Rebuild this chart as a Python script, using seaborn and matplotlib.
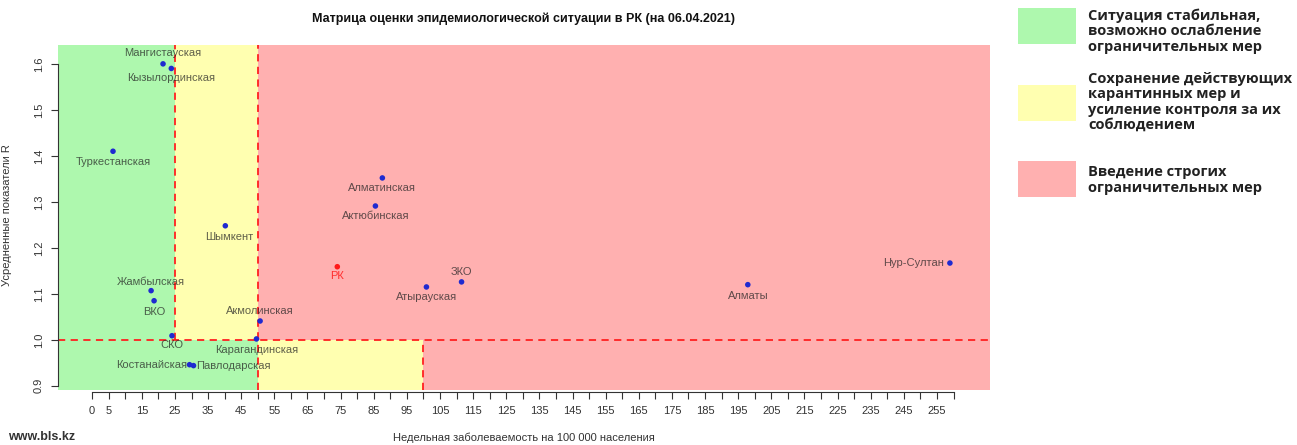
import matplotlib
matplotlib.use('Agg')
import matplotlib.pyplot as plt
import seaborn as sns
import pandas as pd
from matplotlib.patches import Rectangle

regions = ['Мангистауская', 'Кызылординская', 'Туркестанская', 'Шымкент', 'Жамбылская',
           'ВКО', 'СКО', 'Акмолинская', 'Карагандинская', 'Костанайская', 'Павлодарская',
           'Алматинская', 'Актюбинская', 'РК', 'ЗКО', 'Атырауская', 'Алматы', 'Нур-Султан']
incidence = [21.4, 23.9, 6.3, 40.2, 17.8, 18.7, 24.1, 50.7, 49.6, 29.4, 30.6,
             87.6, 85.5, 74.0, 111.5, 100.9, 197.9, 258.9]
r_value = [1.60, 1.59, 1.41, 1.248, 1.107, 1.085, 1.009, 1.041, 1.002, 0.946, 0.944,
           1.352, 1.291, 1.159, 1.126, 1.115, 1.12, 1.167]

# label placement (offset in points, horizontal alignment)
label_dx = [0, 0, 0, 3, 0, 0, 0, 0, 0, -2, 2, 0, 0, 0, 0, 0, 0, -4]
label_dy = [8, -7, -8, -8, 6.5, -8, -7, 7, -8, 0, 0, -7, -7, -7, 7, -7, -8, 0]
label_ha = ['center'] * 9 + ['right', 'left'] + ['center'] * 6 + ['right']

x_green, x_yellow, x_red = 25, 50, 100
r_limit = 1.0

legend_texts = ['Ситуация стабильная,\nвозможно ослабление\nограничительных мер',
                'Сохранение действующих\nкарантинных мер и\nусиление контроля за их\nсоблюдением',
                'Введение строгих\nограничительных мер']

GREEN = '#aef8ae'
YELLOW = '#ffffb0'
RED = '#ffb0b0'

sns.set_style('ticks')
plt.rcParams['font.family'] = ['Liberation Sans', 'DejaVu Sans']

df = pd.DataFrame({'region': regions, 'x': incidence, 'y': r_value})
df['kind'] = ['РК' if r == 'РК' else 'region' for r in regions]

fig = plt.figure(figsize=(12.97, 4.45), dpi=100)
ax = fig.add_axes([58 / 1297, 1 - 390 / 445, 932 / 1297, 345 / 445])
xmin, xmax = -10.3, 271
ymin, ymax = 0.891, 1.641
ax.set_xlim(xmin, xmax)
ax.set_ylim(ymin, ymax)

# background zones
ax.add_patch(Rectangle((xmin, ymin), x_green - xmin, ymax - ymin, color=GREEN, lw=0, zorder=0))
ax.add_patch(Rectangle((x_green, ymin), x_yellow - x_green, r_limit - ymin, color=GREEN, lw=0, zorder=0))
ax.add_patch(Rectangle((x_green, r_limit), x_yellow - x_green, ymax - r_limit, color=YELLOW, lw=0, zorder=0))
ax.add_patch(Rectangle((x_yellow, ymin), x_red - x_yellow, r_limit - ymin, color=YELLOW, lw=0, zorder=0))
ax.add_patch(Rectangle((x_yellow, r_limit), xmax - x_yellow, ymax - r_limit, color=RED, lw=0, zorder=0))
ax.add_patch(Rectangle((x_red, ymin), xmax - x_red, r_limit - ymin, color=RED, lw=0, zorder=0))

dash = dict(color='#ff2020', lw=1.3, ls=(0, (4, 3)), zorder=1)
ax.plot([x_green, x_green], [r_limit, ymax], **dash)
ax.plot([x_yellow, x_yellow], [ymin, ymax], **dash)
ax.plot([x_red, x_red], [ymin, r_limit], **dash)
ax.plot([xmin, xmax], [r_limit, r_limit], **dash)

sns.scatterplot(data=df, x='x', y='y', hue='kind', palette={'region': '#1f2ad0', 'РК': '#ff1a1a'},
                s=16, edgecolor='none', legend=False, ax=ax, zorder=3)

for i, name in enumerate(regions):
    col = '#ff2020' if name == 'РК' else '#222222'
    al = 0.9 if name == 'РК' else 0.72
    ax.annotate(name, (incidence[i], r_value[i]), xytext=(label_dx[i], label_dy[i]),
                textcoords='offset points', ha=label_ha[i], va='center',
                fontsize=8, color=col, alpha=al, zorder=4)

# axes in R style
ax.set_xticks(range(0, 261, 5))
ax.set_xticklabels(['' if (v % 10 == 0 and v != 0) else str(v) for v in range(0, 261, 5)])
ax.set_yticks([0.9, 1.0, 1.1, 1.2, 1.3, 1.4, 1.5, 1.6])
ax.set_yticklabels(['0.9', '1.0', '1.1', '1.2', '1.3', '1.4', '1.5', '1.6'], rotation=90, va='center')
ax.tick_params(axis='both', labelsize=8, labelcolor='#333333', length=5, width=0.8, pad=5, color='#333333')
sns.despine(ax=ax)
ax.spines['bottom'].set_bounds(0, 260)
ax.spines['left'].set_bounds(0.9, 1.6)
ax.spines['bottom'].set_position(('outward', 1.5))
for sp in ('bottom', 'left'):
    ax.spines[sp].set_color('#333333')
    ax.spines[sp].set_linewidth(0.8)
ax.set_xlabel('Недельная заболеваемость на 100 000 населения', fontsize=8, color='#333333', labelpad=12)
ax.set_ylabel('')

fig.text(7 / 1297, 1 - 215 / 445, 'Усредненные показатели R', rotation=90, ha='center', va='center',
         fontsize=8, color='#333333')
fig.text(524 / 1297, 1 - 19 / 445, 'Матрица оценки эпидемиологической ситуации в РК (на 06.04.2021)',
         ha='center', va='center', fontsize=9, fontweight='bold', color='#111111')
fig.text(8 / 1297, 1 - 437 / 445, 'www.bls.kz', ha='left', va='center', fontsize=9,
         fontweight='bold', color='#333333')

# legend on the right
box_y = [8, 85, 161]
text_y = [31, 102, 180]
for col, by, ty, txt in zip([GREEN, YELLOW, RED], box_y, text_y, legend_texts):
    fig.patches.append(Rectangle((1018 / 1297, 1 - (by + 36) / 445), 58 / 1297, 36 / 445,
                                 transform=fig.transFigure, color=col, lw=0))
    fig.text(1088 / 1297, 1 - ty / 445, txt, ha='left', va='center', fontsize=10.5,
             fontweight='bold', family=['Open Sans', 'DejaVu Sans'], color='#222222', linespacing=1.13)

fig.savefig('out.png', dpi=100)
